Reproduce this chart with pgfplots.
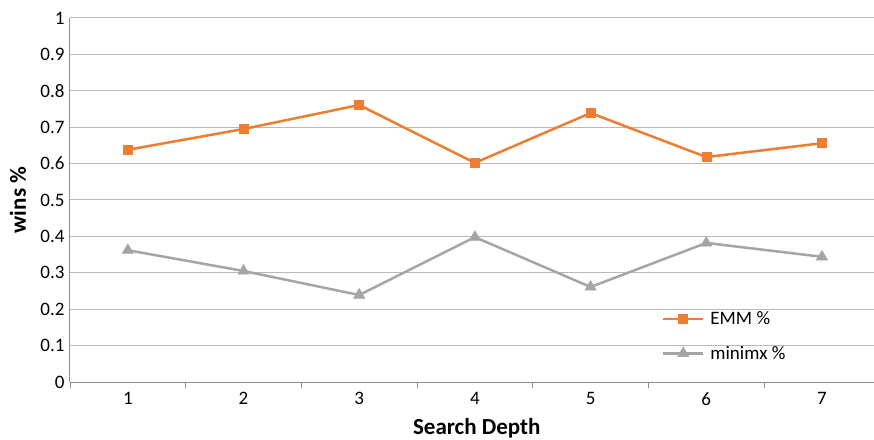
\documentclass[border=0pt]{standalone}
\usepackage{fontspec}
\setmainfont{Carlito}
\usepackage{pgfplots}
\pgfplotsset{compat=1.18}
\definecolor{emm}{RGB}{237,125,49}
\definecolor{mm}{RGB}{165,165,165}
\definecolor{gridc}{RGB}{185,185,185}
\definecolor{axc}{RGB}{140,140,140}
\begin{document}
\begin{tikzpicture}[x=1pt,y=1pt]
\begin{axis}[
 at={(0,0)}, anchor=south west,
 scale only axis, width=804pt, height=364pt,
 xmin=0.5, xmax=7.45, ymin=0, ymax=1,
 axis lines*=left,
 axis line style={draw=axc, line width=1pt, -},
 xtick={1,2,3,4,5,6,7},
 minor xtick={0.5,1.5,2.5,3.5,4.5,5.5,6.5},
 major tick length=0pt,
 minor tick length=6pt,
 tick align=outside,
 minor x tick style={draw=axc, line width=0.8pt},
 major tick style={draw=none},
 ytick={0,0.1,0.2,0.3,0.4,0.5,0.6,0.7,0.8,0.9,1},
 ymajorgrids,
 grid style={draw=gridc, line width=1pt},
 /pgf/number format/assume math mode=true,
 yticklabel style={/pgf/number format/fixed, /pgf/number format/precision=1, xshift=-2pt},
 xticklabel style={yshift=-7pt},
 tick label style={font=\fontsize{19}{22}\selectfont},
 xlabel={Search Depth},
 ylabel={wins \%},
 every axis x label/.style={at={(axis description cs:0.506,0)}, yshift=-46pt, anchor=center, font=\fontsize{23}{26}\selectfont\bfseries},
 every axis y label/.style={at={(axis description cs:0,0.5)}, xshift=-52pt, rotate=90, anchor=center, font=\fontsize{23}{26}\selectfont\bfseries},
 legend style={draw=none, fill=none, at={(axis description cs:0.736,0.126)}, anchor=west,
   font=\fontsize{19}{22}\selectfont, row sep=16pt, column sep=4pt, inner sep=0pt},
 legend cell align=left,
 legend image code/.code={\draw[mark repeat=2,mark phase=2,#1] plot coordinates {(0pt,0pt) (20pt,0pt) (40pt,0pt)};},
 clip=false,
]
\addplot[color=emm, line width=2.5pt, mark=square*, mark size=4.5pt, mark options={line width=0.5pt, fill=emm}]
 coordinates {(1,0.638) (2,0.695) (3,0.761) (4,0.602) (5,0.739) (6,0.618) (7,0.656)};
\addlegendentry{EMM \%}
\addplot[color=mm, line width=2.5pt, mark=triangle*, mark size=6.5pt, mark options={line width=0.5pt, fill=mm}]
 coordinates {(1,0.362) (2,0.305) (3,0.239) (4,0.398) (5,0.261) (6,0.382) (7,0.344)};
\addlegendentry{minimx \%}
\end{axis}
\pgfresetboundingbox
\useasboundingbox (-70,-57) rectangle (804,382);
\end{tikzpicture}
\end{document}
